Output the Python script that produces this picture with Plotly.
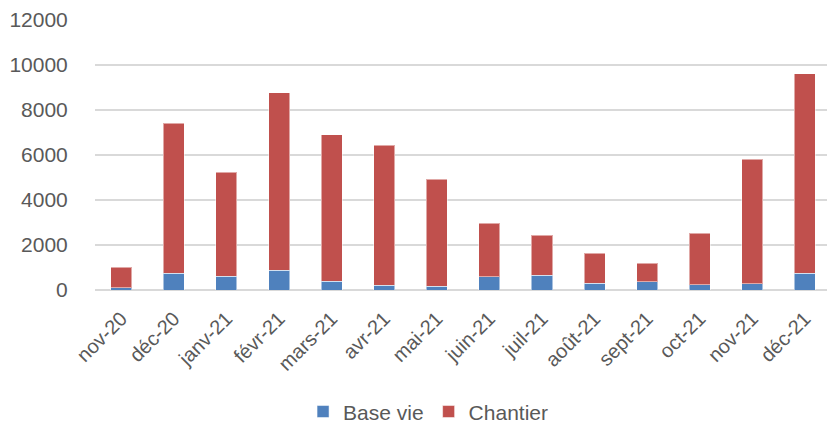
import plotly.graph_objects as go

months = ["nov-20", "déc-20", "janv-21", "févr-21", "mars-21", "avr-21", "mai-21",
          "juin-21", "juil-21", "août-21", "sept-21", "oct-21", "nov-21", "déc-21"]
base_vie = [100, 740, 610, 875, 390, 220, 165, 580, 650, 310, 370, 235, 270, 755]
chantier = [920, 6680, 4630, 7885, 6500, 6220, 4765, 2380, 1780, 1320, 830, 2295, 5550, 8865]
y_ticks = [0, 2000, 4000, 6000, 8000, 10000, 12000]
y_tick_text = ["0", "2000", "4000", "6000", "8000", "10000", "12000"]

font_family = "Liberation Sans, Arial, sans-serif"
grey = "#595959"

fig = go.Figure()
fig.add_trace(go.Bar(x=months, y=base_vie, name="Base vie",
                     marker=dict(color="#4F81BD", line=dict(color="rgba(255,255,255,0.5)", width=1))))
fig.add_trace(go.Bar(x=months, y=chantier, name="Chantier",
                     marker=dict(color="#C0504D", line=dict(color="rgba(255,255,255,0.5)", width=1))))

fig.update_layout(
    barmode="stack",
    bargap=0.6,
    width=827, height=432,
    margin=dict(l=95, r=0, t=20, b=142, autoexpand=False),
    paper_bgcolor="white", plot_bgcolor="white",
    font=dict(family=font_family, size=20, color=grey),
    showlegend=True,
    legend=dict(orientation="h", x=0.455, xanchor="center", yref="container",
                y=0.094, yanchor="top",
                font=dict(size=21, color=grey), itemwidth=30, traceorder="normal"),
    xaxis=dict(type="category", range=[-0.5, 13.42], tickangle=-45, showgrid=False,
               showline=False, ticks="outside", ticklen=8, tickcolor="rgba(0,0,0,0)",
               automargin=False, tickfont=dict(size=20, color=grey)),
    yaxis=dict(range=[0, 12000], tickvals=y_ticks, ticktext=y_tick_text,
               showgrid=True, gridcolor="#D9D9D9", automargin=False,
               gridwidth=1.5, zeroline=True, zerolinecolor="#D9D9D9", zerolinewidth=1.5,
               ticks="outside", ticklen=22, tickcolor="rgba(0,0,0,0)",
               tickfont=dict(size=21, color=grey)),
)

fig.write_html("out.html")
